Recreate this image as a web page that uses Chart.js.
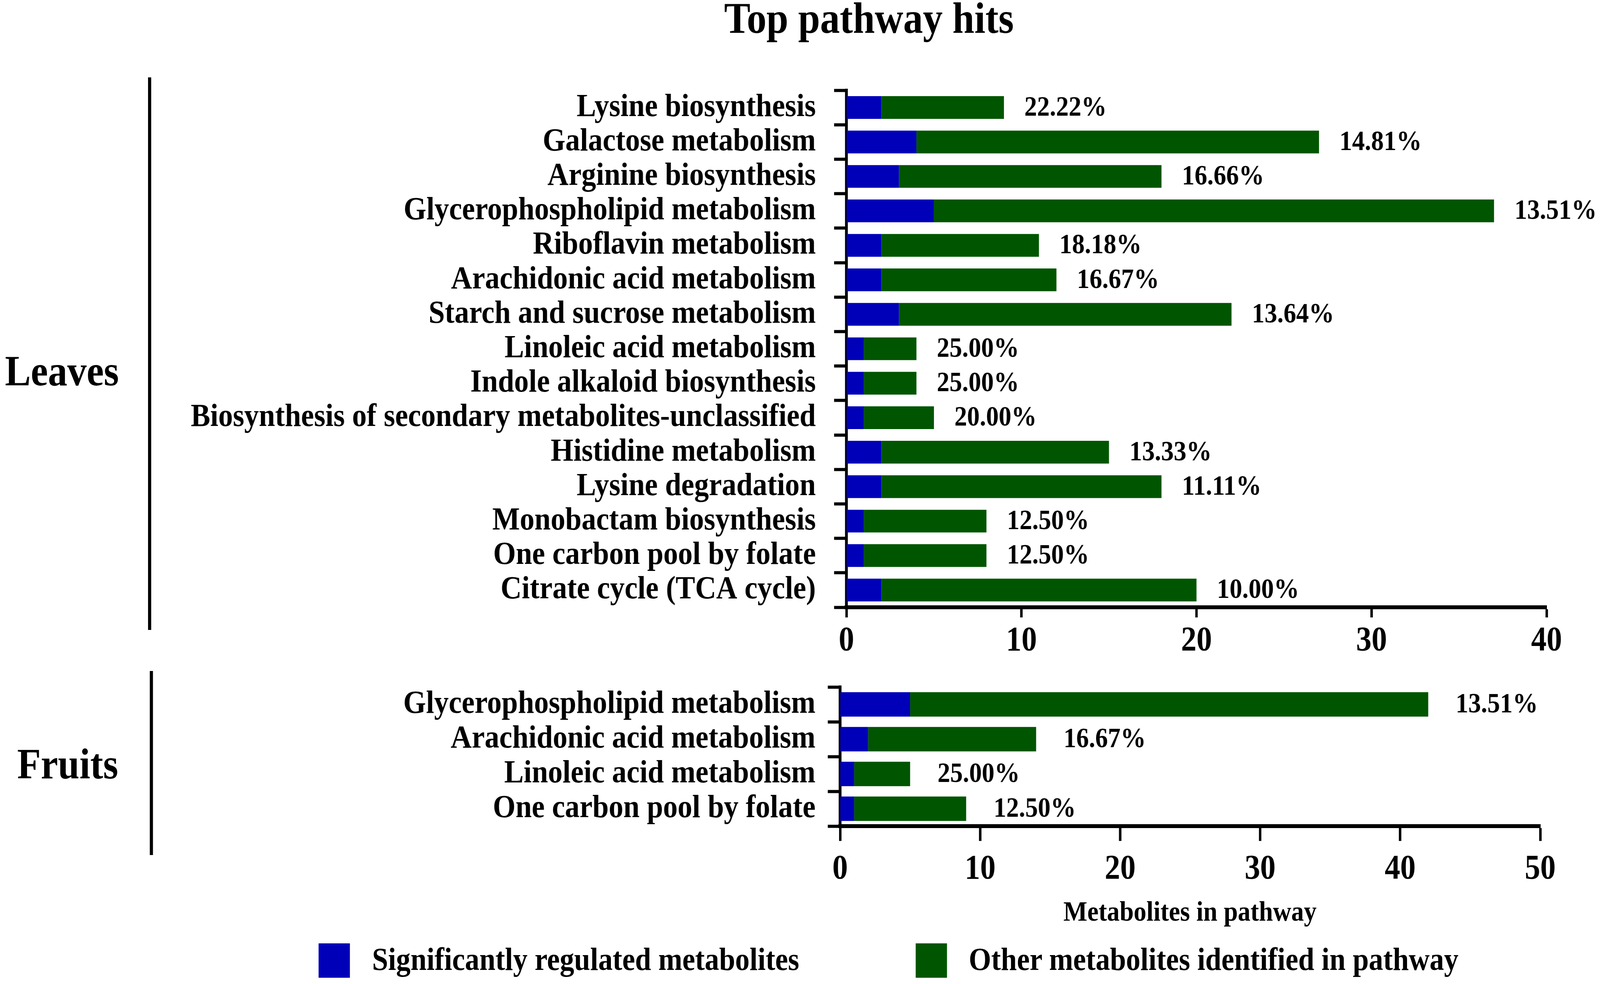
<!DOCTYPE html>
<html>
<head>
<meta charset="utf-8">
<script src="https://cdn.jsdelivr.net/npm/chart.js@4.4.1/dist/chart.umd.min.js"></script>
<style>
  html, body { margin: 0; background: #fff; overflow: hidden; }
  #page { position: relative; width: 4550px; height: 2518px; background: #fff; transform-origin: 0 0; font-family: "Liberation Serif", "Times New Roman", serif; font-weight: bold; color: #000; }
  .txt { position: absolute; white-space: nowrap; line-height: 1; }
  .bracket { position: absolute; width: 9px; background: #000; }
  canvas { position: absolute; left: 0; }
  .swatch { position: absolute; width: 89px; height: 88px; }
</style>
</head>
<body>
<div id="page">
  <div class="txt" id="title" style="left:0;width:4942px;text-align:center;top:-10px;font-size:112px;">Top pathway hits</div>

  <div class="bracket" style="left:421px;top:198px;height:1414px;"></div>
  <div class="bracket" style="left:426px;top:1717px;height:471px;"></div>
  <div class="txt" style="right:4212px;top:894px;font-size:110px;">Leaves</div>
  <div class="txt" style="right:4214px;top:1900px;font-size:110px;">Fruits</div>

  <div class="txt" style="left:2384px;width:2000px;text-align:center;top:2296px;font-size:72px;">Metabolites in pathway</div>

  <div class="swatch" style="left:906px;top:2414px;background:#0000b8;"></div>
  <div class="txt" style="left:1058px;top:2414px;font-size:82px;">Significantly regulated metabolites</div>
  <div class="swatch" style="left:2604px;top:2414px;background:#005500;"></div>
  <div class="txt" style="left:2755px;top:2414px;font-size:82px;">Other metabolites identified in pathway</div>

  <canvas id="leavesChart"></canvas>
  <canvas id="fruitsChart"></canvas>
</div>
<script>
const leafPathways = [
  "Lysine biosynthesis",
  "Galactose metabolism",
  "Arginine biosynthesis",
  "Glycerophospholipid metabolism",
  "Riboflavin metabolism",
  "Arachidonic acid metabolism",
  "Starch and sucrose metabolism",
  "Linoleic acid metabolism",
  "Indole alkaloid biosynthesis",
  "Biosynthesis of secondary metabolites-unclassified",
  "Histidine metabolism",
  "Lysine degradation",
  "Monobactam biosynthesis",
  "One carbon pool by folate",
  "Citrate cycle (TCA cycle)"
];
const leafSignificant = [2, 4, 3, 5, 2, 2, 3, 1, 1, 1, 2, 2, 1, 1, 2];
const leafOther = [7, 23, 15, 32, 9, 10, 19, 3, 3, 4, 13, 16, 7, 7, 18];
const leafPercent = ["22.22%", "14.81%", "16.66%", "13.51%", "18.18%", "16.67%", "13.64%",
  "25.00%", "25.00%", "20.00%", "13.33%", "11.11%", "12.50%", "12.50%", "10.00%"];
const leafTicks = [0, 10, 20, 30, 40];

const fruitPathways = [
  "Glycerophospholipid metabolism",
  "Arachidonic acid metabolism",
  "Linoleic acid metabolism",
  "One carbon pool by folate"
];
const fruitSignificant = [5, 2, 1, 1];
const fruitOther = [37, 12, 4, 8];
const fruitPercent = ["13.51%", "16.67%", "25.00%", "12.50%"];
const fruitTicks = [0, 10, 20, 30, 40, 50];

const BLUE = "#0000b8";
const GREEN = "#005500";
const FONT = "'Liberation Serif', 'Times New Roman', serif";

// the window is not always 4550 wide, so stretch the 4550x2518 layout onto it
const sx = window.innerWidth / 4550;
const sy = window.innerHeight / 2518;
document.getElementById("page").style.transform = "scale(" + sx + "," + sy + ")";

// percent text at the end of each stacked bar
const percentLabels = {
  id: "percentLabels",
  afterDatasetsDraw(chart, args, opts) {
    const ctx = chart.ctx;
    const xs = chart.scales.x, ys = chart.scales.y;
    ctx.save();
    ctx.font = "bold " + opts.size + "px " + FONT;
    ctx.fillStyle = "#000";
    ctx.textAlign = "left";
    ctx.textBaseline = "middle";
    opts.labels.forEach((lab, i) => {
      let total = 0;
      chart.data.datasets.forEach(ds => { total += ds.data[i]; });
      ctx.fillText(lab, xs.getPixelForValue(total) + opts.gap, ys.getPixelForValue(i) + 2);
    });
    ctx.restore();
  }
};

function makeChart(id, cfg) {
  const canvas = document.getElementById(id);
  canvas.style.top = cfg.top + "px";
  canvas.style.width = "4550px";
  canvas.style.height = cfg.height + "px";
  canvas.width = 4550;
  canvas.height = cfg.height;

  return new Chart(canvas, {
    type: "bar",
    data: {
      labels: cfg.labels,
      datasets: [
        { label: "Significantly regulated metabolites", data: cfg.sig, backgroundColor: BLUE },
        { label: "Other metabolites identified in pathway", data: cfg.other, backgroundColor: GREEN }
      ]
    },
    plugins: [percentLabels],
    options: {
      indexAxis: "y",
      responsive: false,
      animation: false,
      devicePixelRatio: 1,
      layout: { padding: { left: 0, top: cfg.areaTop, right: 4550 - cfg.areaRight, bottom: 0 } },
      datasets: { bar: { barPercentage: cfg.barPct, categoryPercentage: 1 } },
      plugins: {
        legend: { display: false },
        tooltip: { enabled: false },
        percentLabels: { labels: cfg.percent, size: 72, gap: cfg.gap }
      },
      scales: {
        x: {
          stacked: true,
          min: 0,
          max: cfg.ticks[cfg.ticks.length - 1],
          afterBuildTicks: axis => { axis.ticks = cfg.ticks.map(v => ({ value: v })); },
          afterFit: axis => { axis.height = cfg.height - cfg.areaBottom; },
          border: { display: true, color: "#000", width: 10 },
          grid: { drawOnChartArea: false, drawTicks: true, tickLength: cfg.xTick, tickWidth: 7, tickColor: "#000" },
          ticks: { color: "#000", font: { family: FONT, size: 88, weight: "bold" }, padding: cfg.xPad, maxRotation: 0 }
        },
        y: {
          stacked: true,
          afterFit: axis => { axis.width = cfg.areaLeft; },
          border: { display: true, color: "#000", width: 8 },
          grid: { drawOnChartArea: false, drawTicks: true, tickLength: 35, tickWidth: 8, tickColor: "#000" },
          ticks: { color: "#000", font: { family: FONT, size: 83, weight: "bold" }, padding: cfg.yPad, autoSkip: false }
        }
      }
    }
  });
}

makeChart("leavesChart", {
  top: 0, height: 1720,
  areaTop: 231, areaBottom: 1554, areaLeft: 2407, areaRight: 4398,
  labels: leafPathways, sig: leafSignificant, other: leafOther, percent: leafPercent,
  ticks: leafTicks, barPct: 0.66, gap: 58, xTick: 26, xPad: 8, yPad: 52
});

// canvas starts higher so the label half-height padding doesn't push the plot down
makeChart("fruitsChart", {
  top: 1620, height: 680,
  areaTop: 138, areaBottom: 494, areaLeft: 2389, areaRight: 4380,
  labels: fruitPathways, sig: fruitSignificant, other: fruitOther, percent: fruitPercent,
  ticks: fruitTicks, barPct: 0.7, gap: 78, xTick: 38, xPad: 20, yPad: 35
});
</script>
</body>
</html>
